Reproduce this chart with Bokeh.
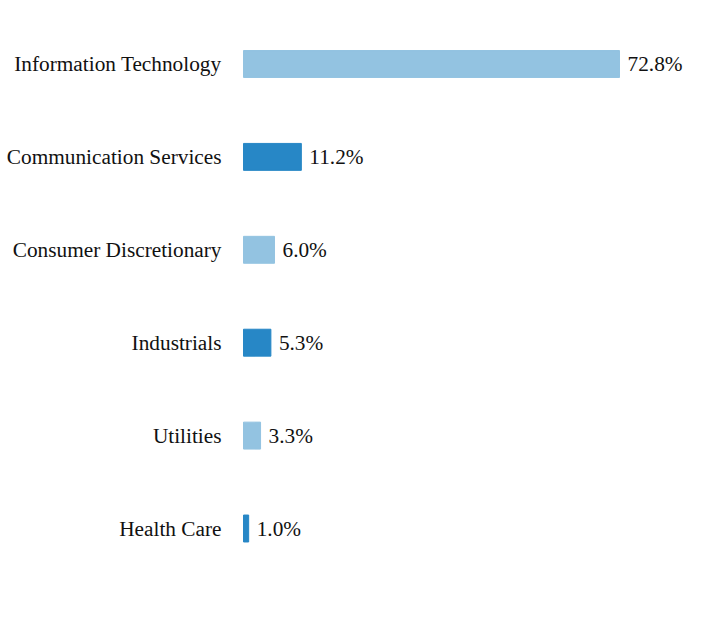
from bokeh.plotting import figure
from bokeh.models import Range1d, ColumnDataSource
from bokeh.core.properties import value
from bokeh.embed import file_html
from bokeh.resources import INLINE

categories = ["Information Technology", "Communication Services", "Consumer Discretionary",
              "Industrials", "Utilities", "Health Care"]
values = [72.8, 11.2, 6.0, 5.3, 3.3, 1.0]
value_labels = ["72.8%", "11.2%", "6.0%", "5.3%", "3.3%", "1.0%"]
colors = ["#93c3e1", "#2787c6", "#93c3e1", "#2787c6", "#93c3e1", "#2787c6"]

ypos = [-i for i in range(len(categories))]
src = ColumnDataSource(dict(cat=categories, val=values, lab=value_labels, col=colors, y=ypos,
                            zero=[0] * len(values)))

p = figure(width=716, height=636, output_backend="svg", toolbar_location=None,
           x_range=Range1d(-47.05, 91.58), y_range=Range1d(-6.1625, 0.6835),
           min_border=0, outline_line_color=None)
p.axis.visible = False
p.grid.visible = False
p.background_fill_color = "white"
p.border_fill_color = "white"

p.hbar(y="y", left=0, right="val", height=0.29, color="col", source=src)
font = value("Times New Roman, Liberation Serif, serif")
p.text(x="zero", y="y", text="cat", source=src, text_align="right", text_baseline="middle",
       x_offset=-22, text_font=font, text_font_size="21.3px", text_color="#111111")
p.text(x="val", y="y", text="lab", source=src, text_align="left", text_baseline="middle",
       x_offset=8, text_font=font, text_font_size="21.3px", text_color="#111111")

open("out.html", "w").write(file_html(p, INLINE))
